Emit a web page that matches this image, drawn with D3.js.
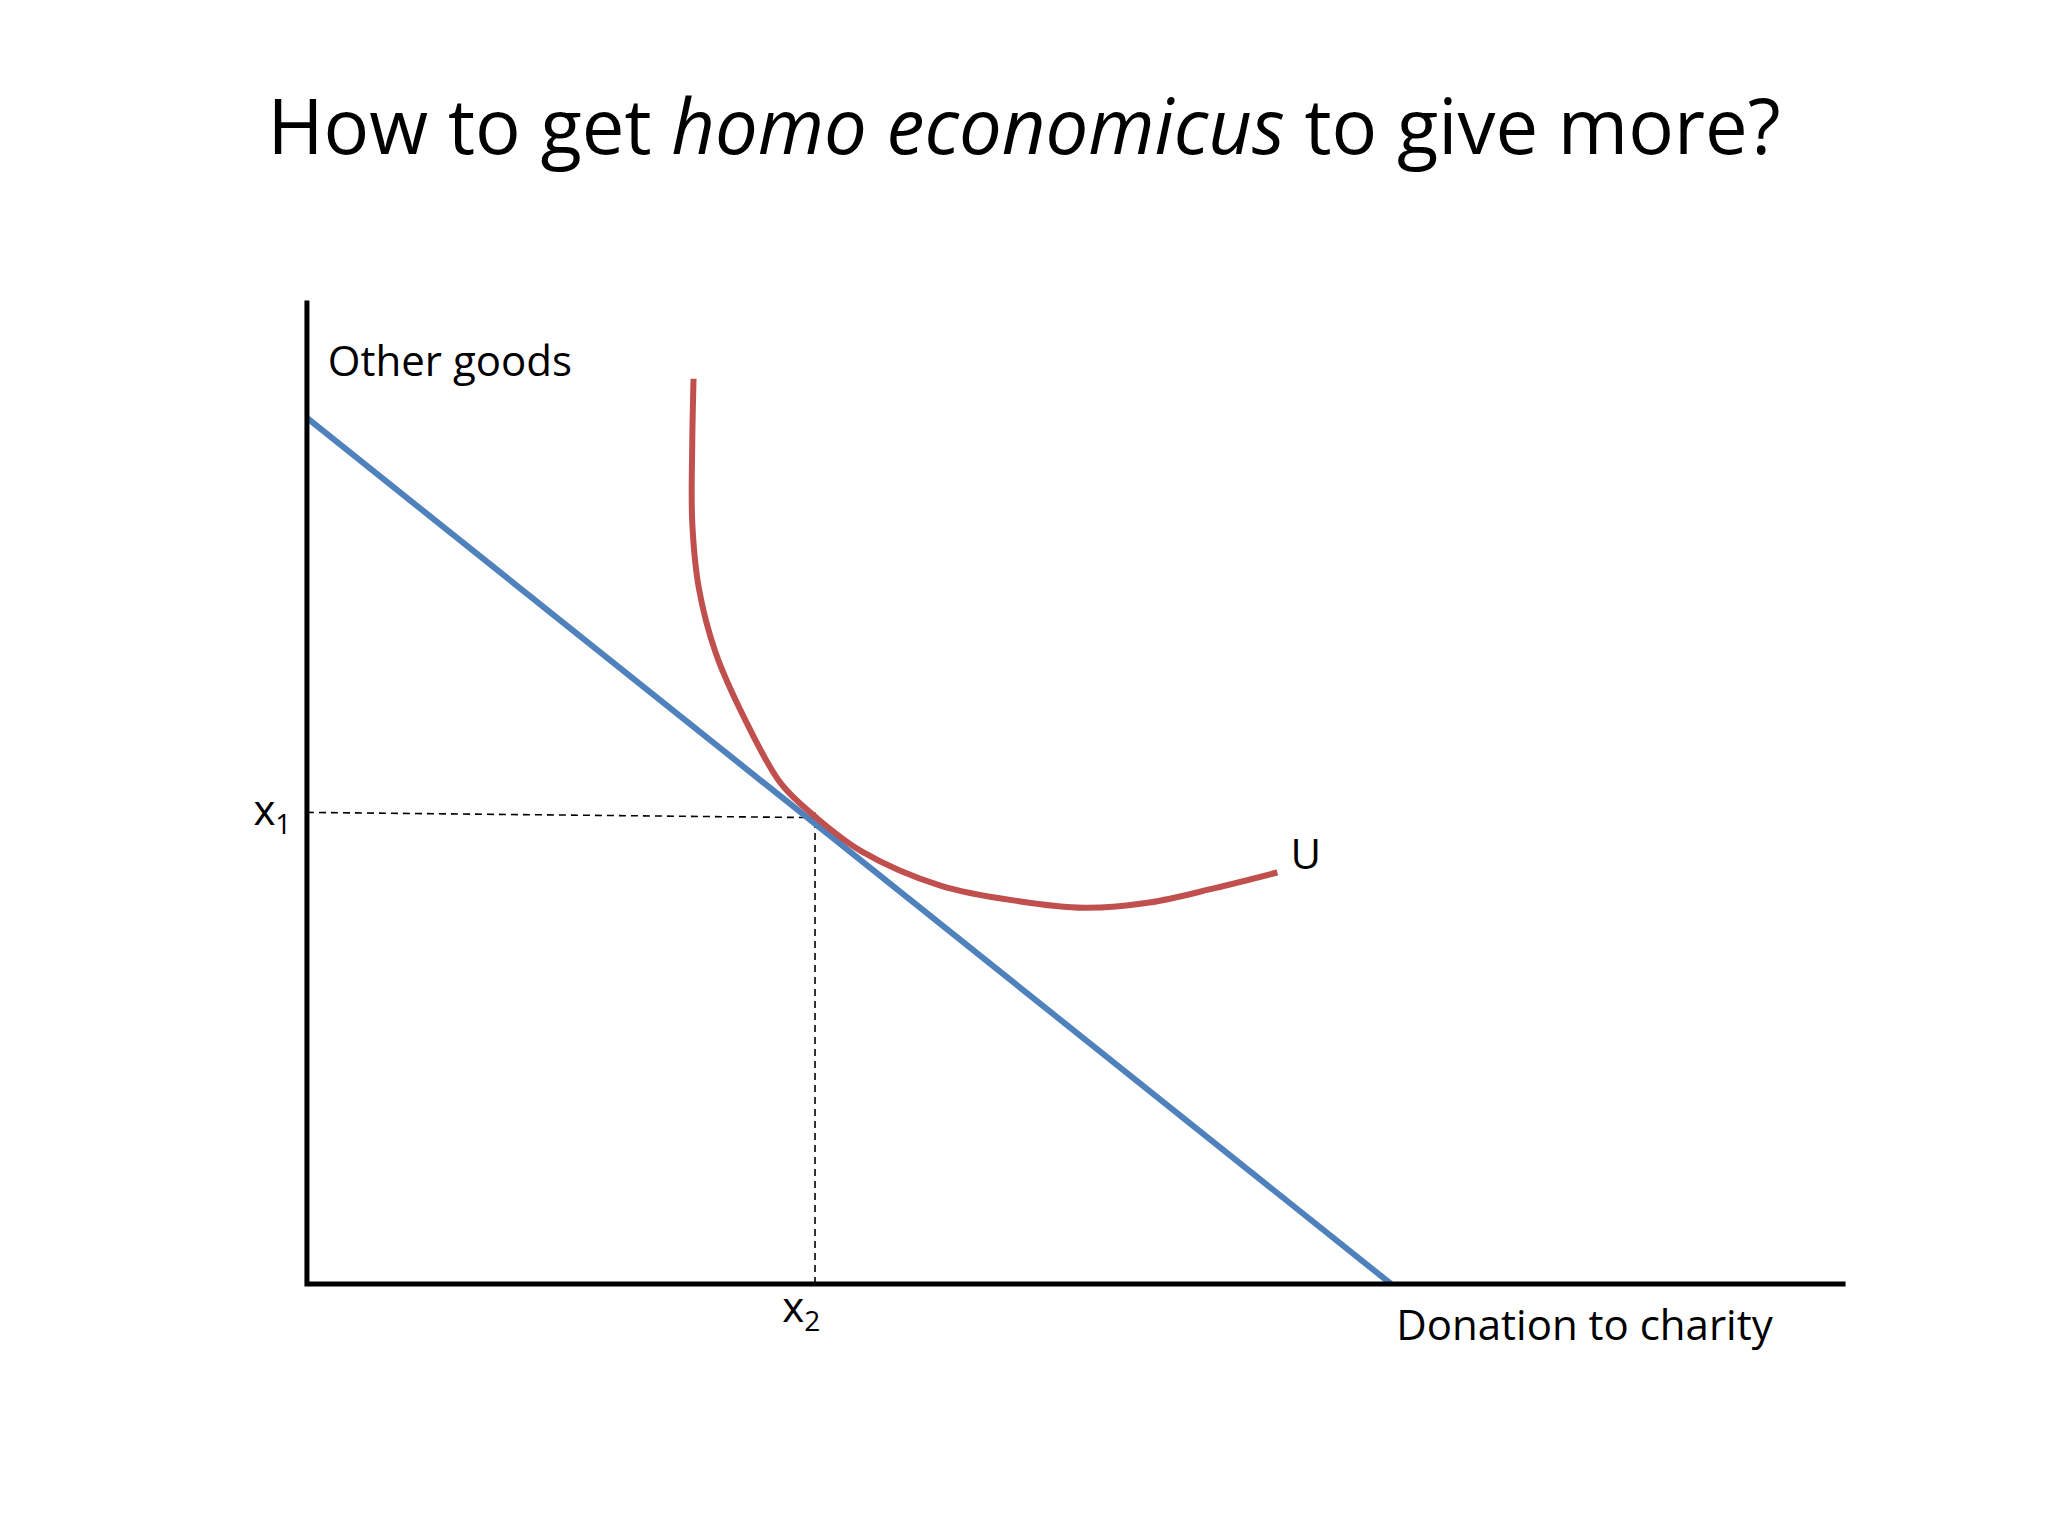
<!DOCTYPE html><html><head><meta charset="utf-8"><script src="https://cdn.jsdelivr.net/npm/d3@7"></script>
<style>body{margin:0;background:#fff}</style></head><body><svg id="c" width="2048" height="1536"></svg><script>
const budgetLine=[[0,663],[830,0]];
const utilityCurve=[[296,693],[295,643],[295,583],[300,533],[313,483],[335,433],[363,383],[390,357],[425,331],[485,305],[545,293],[595,288],[645,292],[695,303],[743,315]];
const tangent={x:389,y:361};
const k=2048/1568;
const svg=d3.select("#c");
const x=d3.scaleLinear().domain([0,1178]).range([235*k,1413*k]);
const y=d3.scaleLinear().domain([0,753]).range([983*k,230*k]);
const F="Open Sans, sans-serif";
const t=svg.append("text").attr("x",784*k).attr("y",118*k).attr("text-anchor","middle").attr("font-family",F).attr("font-size",76).attr("fill","#000");
t.append("tspan").text("How to get ");t.append("tspan").attr("font-style","italic").text("homo economicus");t.append("tspan").text(" to give more?");
const line=d3.line().x(d=>x(d[0])).y(d=>y(d[1]));
svg.append("path").attr("d",line([[tangent.x,0],[tangent.x,tangent.y]])).attr("stroke","#000").attr("stroke-width",1.6).attr("stroke-dasharray","7,5").attr("fill","none");
svg.append("path").attr("d",line([[0,tangent.y],[tangent.x,tangent.y-4]])).attr("stroke","#000").attr("stroke-width",1.6).attr("stroke-dasharray","7,5").attr("fill","none");
svg.append("path").attr("d",line(budgetLine)).attr("stroke","#4f81bd").attr("stroke-width",6).attr("fill","none");
svg.append("path").attr("d",d3.line().curve(d3.curveCatmullRom).x(d=>x(d[0])).y(d=>y(d[1]))(utilityCurve)).attr("stroke","#c0504d").attr("stroke-width",6).attr("fill","none");
svg.append("path").attr("d",line([[0,753],[0,0],[1178,0]])).attr("stroke","#000").attr("stroke-width",5).attr("fill","none");
function lab(s,sx,sy,sub){const e=svg.append("text").attr("x",sx*k).attr("y",sy*k).attr("font-family",F).attr("font-size",42).text(s);if(sub)e.append("tspan").attr("font-size",28).attr("dy",9).text(sub);}
lab("Other goods",251,288);lab("x",194,632,"1");lab("x",599,1012,"2");lab("U",988,665);lab("Donation to charity",1069,1026);
</script></body></html>
